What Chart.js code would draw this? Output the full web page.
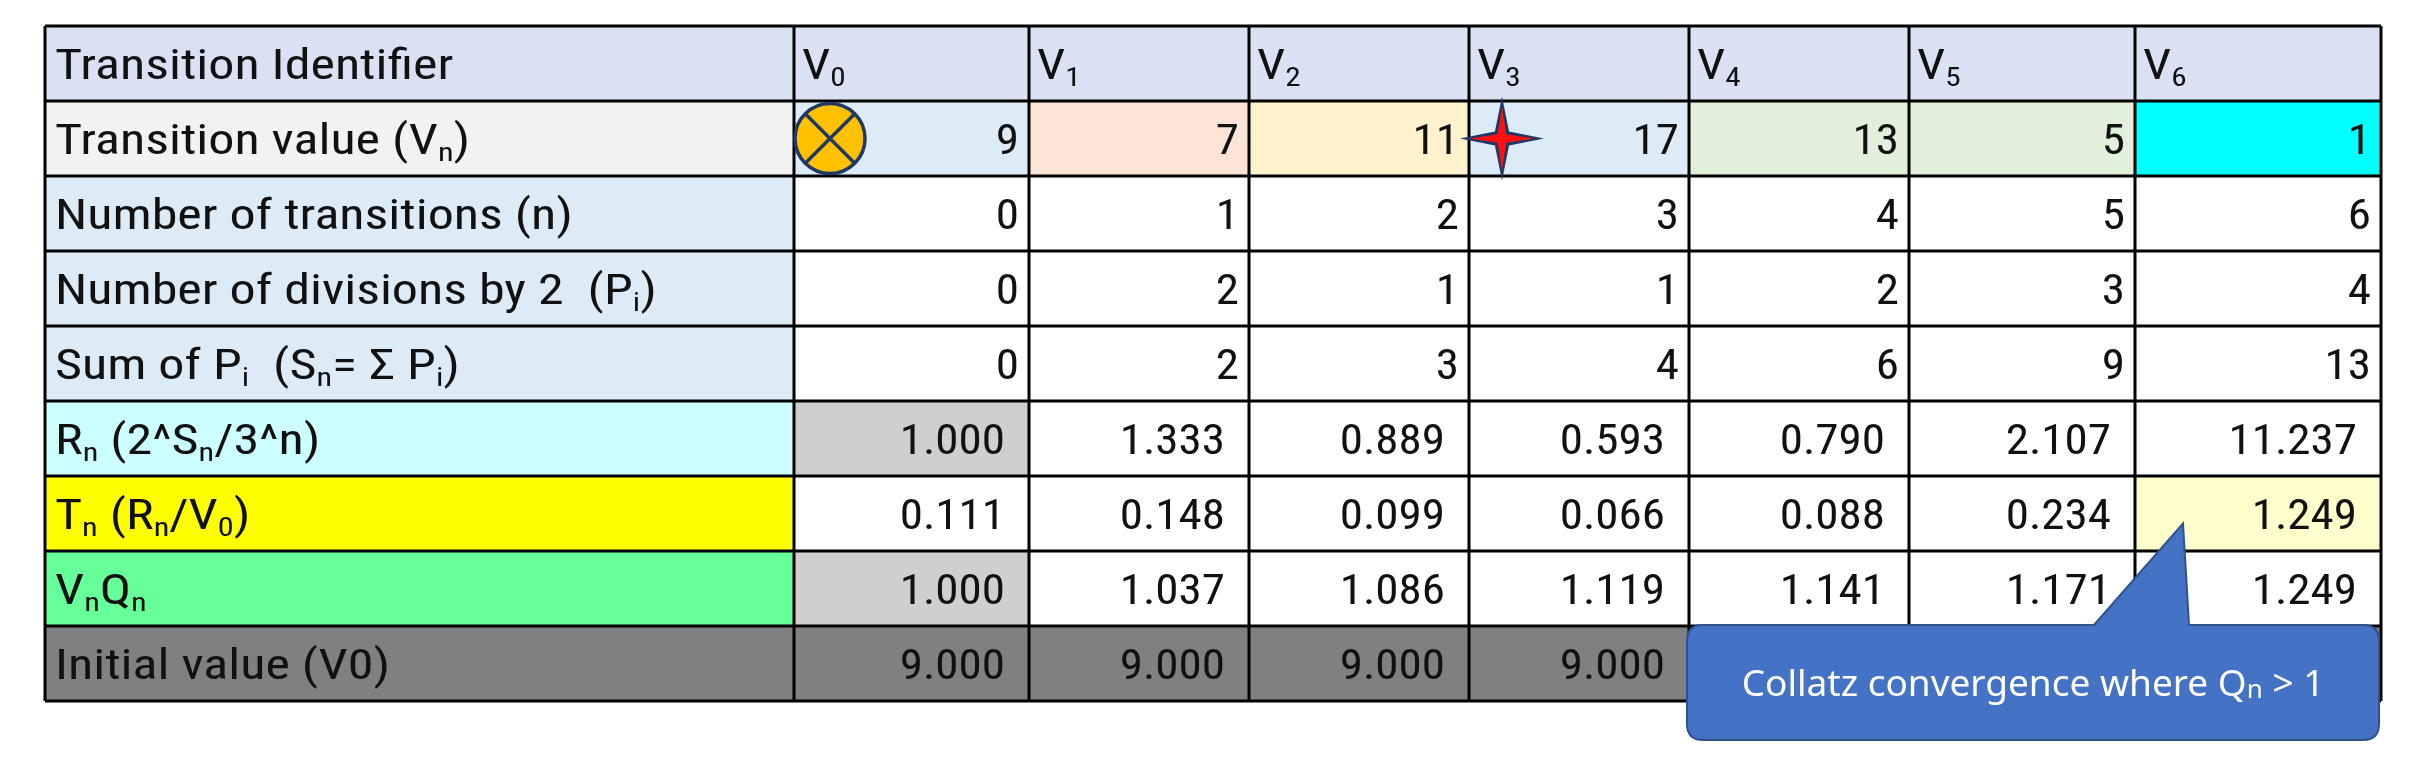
<!DOCTYPE html>
<html><head><meta charset="utf-8">
<script src="https://cdn.jsdelivr.net/npm/chart.js@4.4.1/dist/chart.umd.min.js"></script>
<style>html,body{margin:0;padding:0;background:#fff}#c{display:block}</style>
</head><body><canvas id="c" width="2427" height="772"></canvas>
<script>
// ---- data ----
const columnHeaders = ["V0","V1","V2","V3","V4","V5","V6"];
const transitionValue = [9,7,11,17,13,5,1];
const numTransitions = [0,1,2,3,4,5,6];
const divisionsBy2 = [0,2,1,1,2,3,4];
const sumP = [0,2,3,4,6,9,13];
const Rn = ["1.000","1.333","0.889","0.593","0.790","2.107","11.237"];
const Tn = ["0.111","0.148","0.099","0.066","0.088","0.234","1.249"];
const VnQn = ["1.000","1.037","1.086","1.119","1.141","1.171","1.249"];
const initialValue = ["9.000","9.000","9.000","9.000","9.000","9.000","9.000"];
const rowLabels = [
  [["Transition Identifier",0]],
  [["Transition value (V",0],["n",1],[")",0]],
  [["Number of transitions (n)",0]],
  [["Number of divisions by 2  (P",0],["i",1],[")",0]],
  [["Sum of P",0],["i",1],["  (S",0],["n",1],["= \u03A3 P",0],["i",1],[")",0]],
  [["R",0],["n",1],[" (2^S",0],["n",1],["/3^n)",0]],
  [["T",0],["n",1],[" (R",0],["n",1],["/V",0],["0",1],[")",0]],
  [["V",0],["n",1],["Q",0],["n",1]],
  [["Initial value (V0)",0]]
];
const calloutText = ["Collatz convergence where Q","n"," > 1"];

// ---- style ----
const colWidths = [749,235,220,220,220,220,226,246];
const labelBg = ["#D9E1F2","#F2F2F2","#DDEBF7","#DDEBF7","#DDEBF7","#CCFFFF","#FFFF00","#66FF99","#808080"];
const valueBgRow1 = ["#DDEBF7","#FCE4D6","#FFF2CC","#DDEBF7","#E2EFDA","#E2EFDA","#00FFFF"];
const FONT = '"Liberation Sans Narrow","Roboto Condensed","DejaVu Sans Condensed",sans-serif';
const FS = 42;

const rows = [columnHeaders, transitionValue, numTransitions, divisionsBy2, sumP, Rn, Tn, VnQn, initialValue];
const totalW = colWidths.reduce((a,b)=>a+b,0);
const edges = [0]; colWidths.forEach(w=>edges.push(edges[edges.length-1]+w/totalW*8));

function cellBg(r,c){
  if(c===0) return labelBg[r];
  const i=c-1;
  if(r===0) return "#D9E1F2";
  if(r===1) return valueBgRow1[i];
  if(r===8) return "#808080";
  if((r===5||r===7)&&i===0) return "#D0CECE";
  if(r===6&&i===6) return "#FFFFCC";
  return "#FFFFFF";
}
function drawRich(ctx,segs,x,y,fs,sx){
  ctx.save(); ctx.translate(x,y); ctx.scale(sx,1);
  let cx=0;
  segs.forEach(([t,sub])=>{
    ctx.font=(sub?Math.round(fs*0.62):fs)+"px "+FONT;
    ctx.fillText(t,cx,(sub?fs*0.18:0));
    cx+=ctx.measureText(t).width;
  });
  ctx.restore();
}

const tablePlugin = {
  id:'table',
  afterDatasetsDraw(chart){
    const ctx=chart.ctx, xs=chart.scales.x, ys=chart.scales.y;
    const X=v=>xs.getPixelForValue(v), Y=v=>ys.getPixelForValue(v);
    ctx.save();
    for(let r=0;r<9;r++){
      for(let c=0;c<8;c++){
        const x0=X(edges[c]),x1=X(edges[c+1]),y0=Y(r),y1=Y(r+1);
        ctx.fillStyle=cellBg(r,c); ctx.fillRect(x0,y0,x1-x0,y1-y0);
        ctx.fillStyle="#111"; ctx.textBaseline="alphabetic";
        const base=(y0+y1)/2+15;
        if(c===0){ ctx.textAlign="left"; drawRich(ctx,rowLabels[r],x0+10,base,FS,1.24); }
        else if(r===0){ ctx.textAlign="left"; drawRich(ctx,[["V",0],[String(c-1),1]],x0+8,base,FS,1.2); }
        else {
          const v=String(rows[r][c-1]);
          ctx.textAlign="right"; ctx.font=FS+"px "+FONT;
          const pad=(r>=5)?24:10;
          ctx.save(); ctx.translate(x1-pad,base); ctx.scale(1.12,1);
          ctx.fillText(v,0,0); ctx.restore();
        }
      }
    }
    ctx.strokeStyle="#000"; ctx.lineWidth=3;
    for(let r=0;r<=9;r++){ctx.beginPath();ctx.moveTo(X(0),Y(r));ctx.lineTo(X(8),Y(r));ctx.stroke();}
    for(let c=0;c<=8;c++){ctx.beginPath();ctx.moveTo(X(edges[c]),Y(0));ctx.lineTo(X(edges[c]),Y(9));ctx.stroke();}
    // circle with X on V0
    const ccx=X(edges[1])+36, ccy=(Y(1)+Y(2))/2, cr=35;
    ctx.beginPath();ctx.arc(ccx,ccy,cr,0,Math.PI*2);ctx.fillStyle="#FFC000";ctx.fill();
    ctx.lineWidth=3.5;ctx.strokeStyle="#1F3864";ctx.stroke();
    const d=cr*0.707;ctx.beginPath();ctx.moveTo(ccx-d,ccy-d);ctx.lineTo(ccx+d,ccy+d);ctx.moveTo(ccx+d,ccy-d);ctx.lineTo(ccx-d,ccy+d);ctx.stroke();
    // star at V3 left
    const sx=X(edges[4])+33, sy=ccy;
    function star(R,ri,fill){ctx.beginPath();for(let k=0;k<8;k++){const a=k*Math.PI/4-Math.PI/2;const rr=k%2?ri:R;ctx.lineTo(sx+rr*Math.cos(a),sy+rr*Math.sin(a));}ctx.closePath();ctx.fillStyle=fill;ctx.fill();}
    star(42,10,"#1F3864"); star(32,6,"#FF1010");
    // callout
    const bx0=X(edges[5])-2,bx1=X(edges[8])-2,by0=Y(8)-1,by1=Y(9)+39,rad=16;
    const ax=X(edges[7])+48, ay=(Y(6)+Y(7))/2+10;
    ctx.beginPath();
    ctx.moveTo(bx0+rad,by0);ctx.lineTo(bx1-285,by0);ctx.lineTo(ax,ay);ctx.lineTo(bx1-190,by0);
    ctx.lineTo(bx1-rad,by0);ctx.quadraticCurveTo(bx1,by0,bx1,by0+rad);ctx.lineTo(bx1,by1-rad);
    ctx.quadraticCurveTo(bx1,by1,bx1-rad,by1);ctx.lineTo(bx0+rad,by1);ctx.quadraticCurveTo(bx0,by1,bx0,by1-rad);
    ctx.lineTo(bx0,by0+rad);ctx.quadraticCurveTo(bx0,by0,bx0+rad,by0);ctx.closePath();
    ctx.fillStyle="#4472C4";ctx.fill();ctx.strokeStyle="#2F528F";ctx.lineWidth=2;ctx.stroke();
    ctx.fillStyle="#fff";ctx.textAlign="left";
    const segs=[[calloutText[0],0],[calloutText[1],1],[calloutText[2],0]];
    const cf='"Noto Sans",sans-serif';
    const fs2=37, fsub=26;let w=0;segs.forEach(([t,s])=>{ctx.font=(s?fsub:fs2)+"px "+cf;w+=ctx.measureText(t).width;});
    let cx=(bx0+bx1)/2-w/2;const cyb=(by0+by1)/2+13;
    segs.forEach(([t,s])=>{ctx.font=(s?fsub:fs2)+"px "+cf;ctx.fillText(t,cx,cyb+(s?2:0));cx+=ctx.measureText(t).width;});
    ctx.restore();
  }
};

new Chart(document.getElementById('c'),{
  type:'scatter',
  data:{datasets:[{data:[],pointRadius:0}]},
  options:{
    responsive:false,animation:false,
    layout:{padding:{left:45,right:46,top:26,bottom:71}},
    plugins:{legend:{display:false},tooltip:{enabled:false}},
    scales:{
      x:{type:'linear',min:0,max:8,display:false},
      y:{type:'linear',min:0,max:9,reverse:true,display:false}
    }
  },
  plugins:[tablePlugin]
});
</script></body></html>
